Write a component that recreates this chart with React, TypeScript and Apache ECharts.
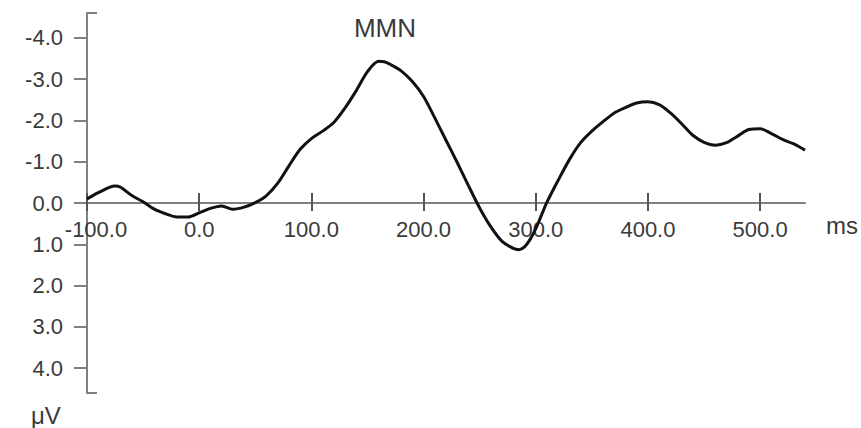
import React, { useEffect, useRef } from "react";
import * as echarts from "echarts";

const times = [
  -100, -90, -80, -75, -70, -60, -50, -40, -30, -20, -10, 0, 10, 20, 30, 40, 50,
  60, 70, 80, 90, 100, 110, 120, 130, 140, 150, 160, 165, 170, 180, 190, 200, 210,
  220, 230, 240, 250, 260, 270, 280, 285, 290, 295, 300, 305, 310, 320, 330, 340, 350, 360,
  370, 380, 390, 400, 410, 420, 430, 440, 450, 460, 470, 480, 490, 500, 510,
  520, 530, 540,
];
const amplitudes = [
  -0.1, -0.25, -0.38, -0.41, -0.38, -0.18, -0.03, 0.15, 0.26, 0.34, 0.34, 0.24,
  0.13, 0.07, 0.15, 0.1, -0.01, -0.18, -0.48, -0.9, -1.3, -1.56, -1.74, -1.95,
  -2.3, -2.72, -3.18, -3.43, -3.42, -3.36, -3.2, -2.94, -2.58, -2.06, -1.52, -0.98,
  -0.42, 0.12, 0.58, 0.93, 1.1, 1.13, 1.06, 0.88, 0.62, 0.3, -0.02, -0.55, -1.05,
  -1.46, -1.74, -1.97, -2.18, -2.31, -2.42, -2.45, -2.38, -2.18, -1.92, -1.64,
  -1.47, -1.4, -1.46, -1.62, -1.78, -1.8, -1.68, -1.54, -1.43, -1.28,
];
const xTicks = [-100, 0, 100, 200, 300, 400, 500];
const yTicks = [-4, -3, -2, -1, 0, 1, 2, 3, 4];
const yMin = -4.6;
const yMax = 4.6;
const yCaps = [yMin, yMax];

const FONT = '"Liberation Sans", Arial, Helvetica, sans-serif';
const AXIS_COLOR = "#808080";
const TEXT_COLOR = "#3a3a3a";

const GRID_TOP = 13;
const GRID_BOTTOM = 35;
const CHART_H = 428;

export default function App() {
  const ref = useRef<HTMLDivElement>(null);
  useEffect(() => {
    if (!ref.current) return;
    const chart = echarts.init(ref.current, null, { renderer: "svg" });
    const data = times.map((t, i) => [t, amplitudes[i]]);
    const gridH = CHART_H - GRID_TOP - GRID_BOTTOM;
    // distance from grid bottom (value yMax) up to value 0 on the inverted axis
    const zeroOffset = -(gridH * (yMax - 0)) / (yMax - yMin);
    chart.setOption({
      animation: false,
      backgroundColor: "#ffffff",
      grid: { left: 87, right: 56, top: GRID_TOP, bottom: GRID_BOTTOM, outerBoundsMode: "none" },
      xAxis: [
        {
          type: "value",
          position: "bottom",
          offset: zeroOffset,
          min: -100,
          max: 540,
          axisLine: { onZero: false, lineStyle: { color: AXIS_COLOR, width: 2 } },
          axisTick: { inside: true, length: 10, customValues: xTicks, lineStyle: { color: "#555555", width: 2 } },
          axisLabel: {
            customValues: xTicks,
            margin: 15,
            fontSize: 22,
            fontFamily: FONT,
            color: TEXT_COLOR,
            formatter: (v: number) => (v === -100 ? "{a|-100.0}" : v.toFixed(1)),
            rich: { a: { padding: [0, 0, 0, 18], fontSize: 22, fontFamily: FONT, color: TEXT_COLOR } },
          },
          splitLine: { show: false },
        },
        {
          type: "value",
          position: "bottom",
          offset: zeroOffset,
          min: -100,
          max: 540,
          axisLine: { show: false, onZero: false },
          axisTick: { inside: false, length: 8, customValues: xTicks, lineStyle: { color: "#555555", width: 2 } },
          axisLabel: { show: false },
          splitLine: { show: false },
        },
      ],
      yAxis: [
        {
          type: "value",
          inverse: true,
          min: yMin,
          max: yMax,
          axisLine: { show: true, onZero: false, lineStyle: { color: AXIS_COLOR, width: 2 } },
          axisTick: { show: true, length: 13, customValues: yTicks, lineStyle: { color: AXIS_COLOR, width: 2 } },
          axisLabel: {
            customValues: yTicks,
            margin: 24,
            fontSize: 22,
            fontFamily: FONT,
            color: TEXT_COLOR,
            formatter: (v: number) => v.toFixed(1),
          },
          splitLine: { show: false },
        },
        {
          type: "value",
          position: "left",
          inverse: true,
          min: yMin,
          max: yMax,
          axisLine: { show: false, onZero: false },
          axisTick: { show: true, inside: true, length: 10, customValues: yCaps, lineStyle: { color: AXIS_COLOR, width: 2 } },
          axisLabel: { show: false },
          splitLine: { show: false },
        },
      ],
      series: [
        {
          type: "line",
          xAxisIndex: 0,
          yAxisIndex: 0,
          data,
          smooth: 0.3,
          showSymbol: false,
          lineStyle: { color: "#111111", width: 3 },
        },
      ],
      graphic: [
        {
          type: "text",
          x: 385,
          y: 28,
          style: { text: "MMN", font: `26px ${FONT}`, fill: TEXT_COLOR, textAlign: "center", textVerticalAlign: "middle" },
        },
        {
          type: "text",
          x: 826,
          y: 225,
          style: { text: "ms", font: `24px ${FONT}`, fill: TEXT_COLOR, textAlign: "left", textVerticalAlign: "middle" },
        },
        {
          type: "text",
          x: 31,
          y: 415,
          style: { text: "μV", font: `24px ${FONT}`, fill: TEXT_COLOR, textAlign: "left", textVerticalAlign: "middle" },
        },
      ],
    });
    return () => chart.dispose();
  }, []);
  return (
    <div
      ref={ref}
      style={{ position: "fixed", left: 0, top: 0, width: 861, height: 428, background: "#fff" }}
    />
  );
}
